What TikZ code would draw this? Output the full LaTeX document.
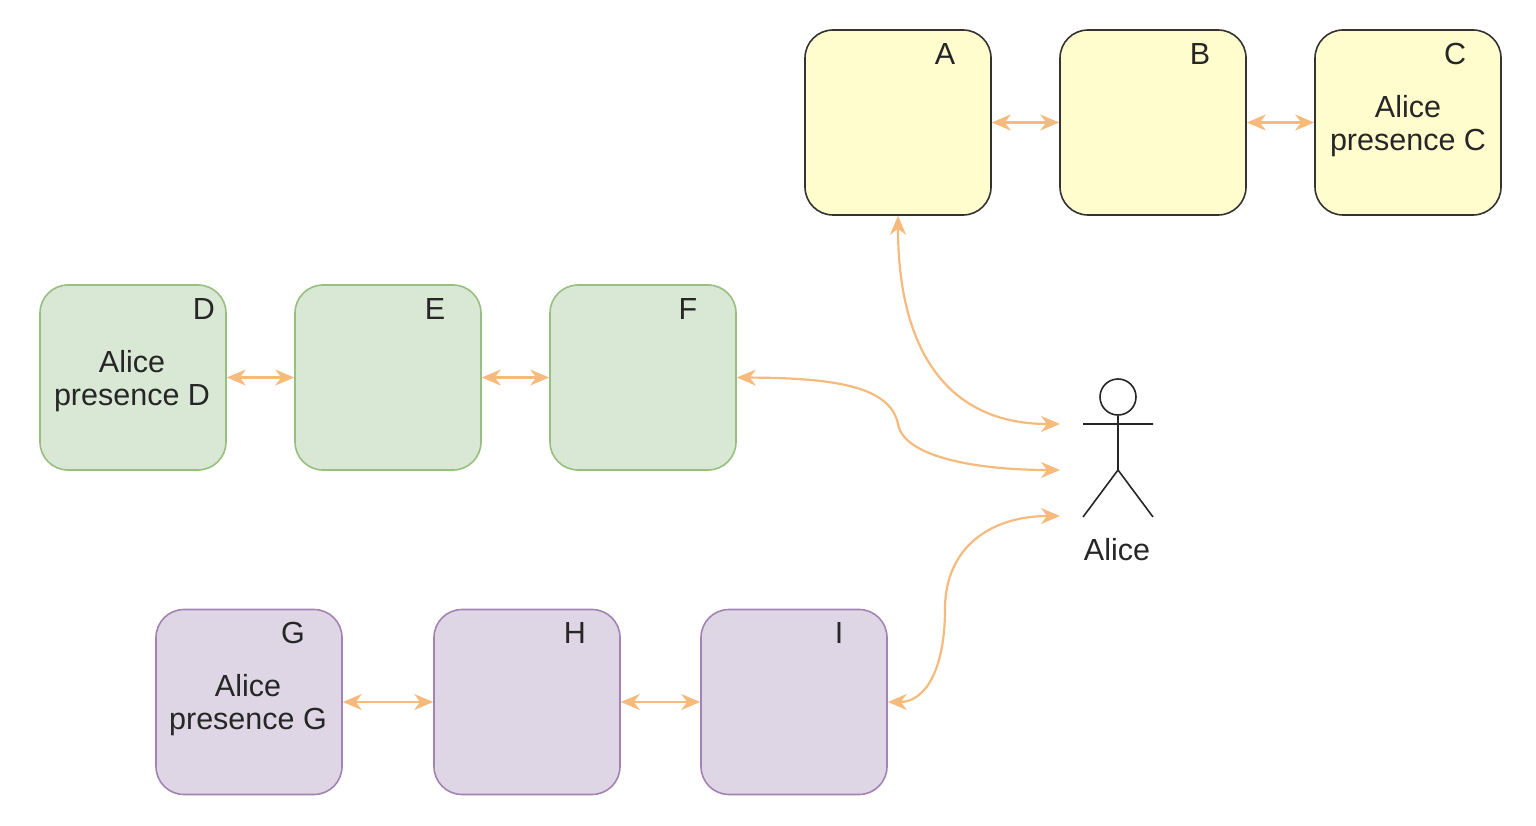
\documentclass[tikz,border=0pt]{standalone}
\usepackage{fontspec}
\setmainfont{Liberation Sans}
\usetikzlibrary{positioning,arrows.meta}
\definecolor{yelfill}{HTML}{FFFCCE}
\definecolor{grnfill}{HTML}{D9E7D5}
\definecolor{grnline}{HTML}{98BE80}
\definecolor{purfill}{HTML}{DFD6E5}
\definecolor{purline}{HTML}{A283B3}
\definecolor{linkcol}{HTML}{F5BA7C}

\begin{document}
\begin{tikzpicture}[x=1pt,y=-1pt,>={Stealth[length=19pt,width=16pt,inset=6pt]},
  box/.style={draw,rounded corners=28pt,minimum width=186pt,minimum height=185pt,line width=1.6pt},
  yel/.style={box,fill=yelfill,draw=black!80},
  grn/.style={box,fill=grnfill,draw=grnline},
  pur/.style={box,fill=purfill,draw=purline},
  lab/.style={font=\fontsize{30.5}{33}\selectfont,align=center,text=black!85},
  link/.style={<->,line width=2.2pt,draw=linkcol}]
\useasboundingbox (0,0) rectangle (1536,826);
% top row
\node[yel] (A) at (898,122.5) {};
\node[yel] (B) at (1153,122.5) {};
\node[yel] (C) at (1408,122.5) {};
\node[lab] (Al) at (945,54) {A};
\node[lab] (Bl) at (1200,54) {B};
\node[lab] (Cl) at (1455,54) {C};
\node[lab] (Ct) at (1408,126) {Alice\\presence C};
% middle row
\node[grn] (D) at (133,377.5) {};
\node[grn] (E) at (388,377.5) {};
\node[grn] (F) at (643,377.5) {};
\node[lab] (Dl) at (204,309) {D};
\node[lab] (El) at (435,309) {E};
\node[lab] (Fl) at (688,309) {F};
\node[lab] (Dt) at (132,381) {Alice\\presence D};
% bottom row
\node[pur] (G) at (249,702) {};
\node[pur] (H) at (527,702) {};
\node[pur] (I) at (794,702) {};
\node[lab] (Gl) at (293,633) {G};
\node[lab] (Hl) at (575,633) {H};
\node[lab] (Il) at (839,633) {I};
\node[lab] (Gt) at (248,705) {Alice\\presence G};
% actor
\node[draw,circle,minimum size=36pt,inner sep=0pt,line width=1.6pt,draw=black!85] (head) at (1118,397) {};
\coordinate (hip) at (1118,470);
\coordinate (armL) at (1083,424);
\coordinate (armR) at (1153,424);
\coordinate (legL) at (1083,517);
\coordinate (legR) at (1153,517);
\draw[line width=1.6pt,draw=black!85] (head.south) -- (hip) (armL) -- (armR) (legL) -- (hip) -- (legR);
\node[lab] (name) at (1117,550) {Alice};
\coordinate (in1) at (1060,424);
\coordinate (in2) at (1060,470);
\coordinate (in3) at (1060,516);
% links inside rows
\draw[link] (A) -- (B);
\draw[link] (B) -- (C);
\draw[link] (D) -- (E);
\draw[link] (E) -- (F);
\draw[link] (G) -- (H);
\draw[link] (H) -- (I);
% links to the actor
\draw[link] (A.south) .. controls (898,340) and (940,424) .. (in1);
\draw[link] (F.east) .. controls (830,378) and (890,385) .. (898,424) .. controls (904,458) and (980,470) .. (in2);
\draw[link] (I.east) .. controls (925,702) and (945,670) .. (945,609) .. controls (945,548) and (990,516) .. (in3);
\end{tikzpicture}
\end{document}
